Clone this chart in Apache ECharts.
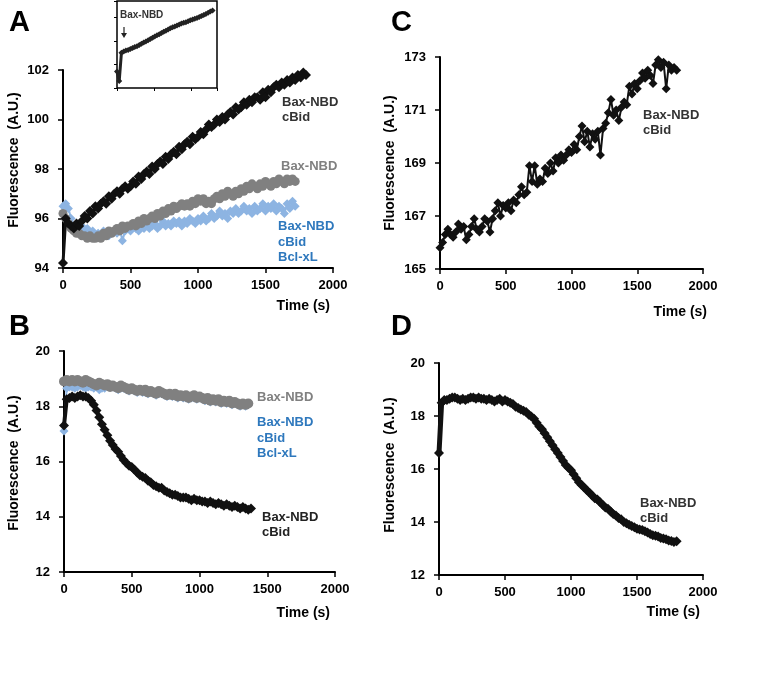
<!DOCTYPE html>
<html><head><meta charset="utf-8">
<script src="https://cdn.jsdelivr.net/npm/echarts@6/dist/echarts.min.js"></script>
<style>html,body{margin:0;padding:0;background:#fff}#c{width:783px;height:680px}</style>
</head><body><div id="c"></div>
<script>
// sample times (s), 20 s step
const time20 = [0,20,40,60,80,100,120,140,160,180,200,220,240,260,280,300,320,340,360,380,400,420,440,460,480,500,520,540,560,580,600,620,640,660,680,700,720,740,760,780,800,820,840,860,880,900,920,940,960,980,1000,1020,1040,1060,1080,1100,1120,1140,1160,1180,1200,1220,1240,1260,1280,1300,1320,1340,1360,1380,1400,1420,1440,1460,1480,1500,1520,1540,1560,1580,1600,1620,1640,1660,1680,1700,1720,1740,1760,1780,1800];
const timeInset = [0,60,120,180,240,300,360,420,480,540,600,660,720,780,840,900,960,1020,1080,1140,1200,1260,1320,1380,1440,1500,1560,1620,1680,1740,1800,1860,1920,1980,2040,2100,2160,2220,2280,2340,2400,2460,2520,2580];

// Panel A
const aBaxCbid = [94.2,96.0,95.8,95.7,95.6,95.8,95.7,95.9,96.1,96.0,96.3,96.2,96.5,96.4,96.6,96.7,96.6,96.9,96.8,97.0,97.1,97.0,97.2,97.3,97.2,97.3,97.5,97.4,97.7,97.6,97.8,97.9,97.8,98.1,98.0,98.2,98.3,98.2,98.5,98.4,98.6,98.7,98.6,98.9,98.8,99.0,99.1,99.0,99.3,99.2,99.3,99.5,99.4,99.6,99.8,99.7,99.8,100.0,99.9,100.1,100.0,100.2,100.3,100.2,100.5,100.4,100.5,100.7,100.6,100.8,100.7,100.9,100.9,100.8,101.1,100.9,101.2,101.1,101.3,101.4,101.3,101.5,101.4,101.6,101.5,101.7,101.6,101.8,101.7,101.9,101.8];
const aBax = [96.2,96.0,95.8,95.6,95.5,95.4,95.4,95.3,95.3,95.2,95.3,95.2,95.2,95.3,95.2,95.4,95.3,95.5,95.4,95.5,95.6,95.5,95.7,95.6,95.7,95.7,95.8,95.7,95.9,95.8,96.0,95.9,96.0,96.1,96.0,96.2,96.1,96.3,96.2,96.4,96.3,96.5,96.4,96.5,96.6,96.5,96.6,96.5,96.7,96.6,96.8,96.7,96.8,96.6,96.7,96.6,96.8,96.9,96.8,97.0,96.9,97.1,97.0,96.9,97.1,97.0,97.2,97.1,97.3,97.2,97.4,97.3,97.2,97.4,97.3,97.5,97.4,97.3,97.5,97.4,97.6,97.5,97.4,97.6,97.5,97.6,97.5];
const aBaxCbidBcl = [96.5,96.6,96.4,96.0,95.7,95.6,95.5,95.7,95.5,95.6,95.4,95.5,95.3,95.4,95.3,95.5,95.4,95.3,95.4,95.5,95.4,95.6,95.1,95.5,95.6,95.5,95.7,95.6,95.5,95.7,95.6,95.8,95.6,95.7,95.8,95.6,95.7,95.9,95.7,95.8,95.7,95.9,95.8,95.9,95.7,95.9,95.8,96.0,95.9,95.8,96.0,95.9,96.1,95.9,96.0,96.2,96.0,96.1,96.3,96.1,96.2,96.0,96.3,96.2,96.4,96.2,96.3,96.5,96.3,96.4,96.2,96.5,96.3,96.4,96.6,96.3,96.5,96.4,96.6,96.3,96.5,96.4,96.2,96.6,96.4,96.7,96.5];

// Panel B
const bBax = [18.9,18.95,18.9,18.95,18.9,18.95,18.9,18.85,18.95,18.9,18.85,18.8,18.75,18.85,18.8,18.75,18.8,18.7,18.75,18.7,18.65,18.75,18.7,18.65,18.6,18.65,18.6,18.55,18.6,18.55,18.6,18.5,18.55,18.5,18.45,18.55,18.5,18.45,18.4,18.45,18.4,18.45,18.35,18.4,18.35,18.4,18.3,18.35,18.4,18.3,18.35,18.3,18.25,18.3,18.2,18.25,18.2,18.25,18.15,18.2,18.15,18.2,18.1,18.15,18.1,18.05,18.1,18.05,18.1];
const bBaxCbidBcl = [17.1,18.65,18.7,18.7,18.65,18.7,18.75,18.7,18.65,18.7,18.7,18.65,18.7,18.6,18.65,18.65,18.75,18.7,18.7,18.65,18.6,18.65,18.65,18.6,18.55,18.6,18.55,18.5,18.55,18.5,18.5,18.45,18.5,18.45,18.4,18.45,18.45,18.4,18.35,18.4,18.35,18.35,18.3,18.35,18.3,18.3,18.25,18.3,18.3,18.25,18.3,18.25,18.2,18.25,18.15,18.2,18.15,18.2,18.1,18.15,18.1,18.15,18.05,18.1,18.05,18.0,18.05,18.0,18.05];
const bBaxCbid = [17.3,18.25,18.3,18.35,18.3,18.35,18.4,18.35,18.35,18.3,18.2,18.05,17.85,17.6,17.35,17.15,16.95,16.75,16.6,16.45,16.35,16.2,16.05,15.95,15.85,15.8,15.7,15.6,15.5,15.45,15.4,15.3,15.25,15.15,15.1,15.05,15.05,14.95,14.9,14.85,14.8,14.8,14.75,14.7,14.7,14.7,14.65,14.6,14.65,14.6,14.6,14.55,14.55,14.5,14.55,14.5,14.45,14.5,14.45,14.4,14.45,14.4,14.35,14.4,14.35,14.3,14.35,14.3,14.25,14.3];

// Panel C
const cBaxCbid = [165.8,166.0,166.3,166.5,166.3,166.2,166.4,166.7,166.5,166.6,166.1,166.3,166.6,166.9,166.5,166.4,166.6,166.9,166.8,166.4,166.9,167.2,167.5,167.0,167.4,167.3,167.5,167.2,167.6,167.5,167.8,168.1,167.8,167.9,168.9,168.3,168.9,168.2,168.4,168.3,168.8,168.6,169.0,168.7,169.2,169.0,169.3,169.1,169.3,169.5,169.4,169.7,169.5,170.0,170.4,169.8,170.2,169.6,170.1,169.9,170.2,169.3,170.3,170.5,170.9,171.4,170.8,171.0,170.6,171.1,171.3,171.2,171.9,171.6,172.0,171.8,172.1,172.4,172.2,172.5,172.3,172.0,172.7,172.9,172.6,172.8,171.8,172.7,172.5,172.6,172.5];

// Panel D
const dBaxCbid = [16.6,18.5,18.6,18.6,18.65,18.7,18.7,18.65,18.6,18.65,18.6,18.65,18.7,18.7,18.65,18.7,18.65,18.65,18.6,18.65,18.6,18.55,18.6,18.65,18.55,18.6,18.55,18.5,18.45,18.35,18.3,18.25,18.2,18.15,18.05,17.98,17.9,17.75,17.6,17.5,17.35,17.2,17.05,16.9,16.75,16.6,16.45,16.3,16.15,16.05,15.95,15.8,15.65,15.5,15.4,15.3,15.2,15.1,15.0,14.9,14.85,14.75,14.65,14.55,14.5,14.4,14.3,14.25,14.15,14.1,14.0,13.95,13.9,13.85,13.8,13.75,13.72,13.7,13.65,13.6,13.55,13.5,13.48,13.45,13.4,13.38,13.35,13.3,13.28,13.25,13.27];

// Inset (arbitrary units)
const insetBax = [0.7,0.3,1.5,1.55,1.6,1.62,1.66,1.7,1.74,1.78,1.83,1.88,1.93,1.98,2.03,2.08,2.14,2.19,2.24,2.29,2.34,2.39,2.44,2.49,2.54,2.58,2.62,2.66,2.7,2.74,2.77,2.8,2.84,2.88,2.91,2.95,2.98,3.02,3.06,3.1,3.15,3.2,3.25,3.3];

// tick settings
const timeTicks = {min:0, max:2000, interval:500};
const yTicksA = {min:94, max:102, interval:2};
const yTicksB = {min:12, max:20, interval:2};
const yTicksC = {min:165, max:173, interval:2};
const yTicksD = {min:12, max:20, interval:2};

const FONT = '"Liberation Sans", Arial, sans-serif';
const BLACK = '#111111', GRAY = '#808080', LBLUE = '#8db4e2', TBLUE = '#2e78bd';

function pairs(t, v){ return v.map((y,i)=>[t[i], y]); }
const plain = v => String(v);

function xAx(gi, r){
  return {type:'value', gridIndex:gi, min:r.min, max:r.max, interval:r.interval,
    axisLine:{show:true, onZero:false, lineStyle:{color:'#000', width:2}},
    axisTick:{show:true, inside:false, length:5, lineStyle:{color:'#000', width:1.5}},
    axisLabel:{show:true, color:'#000', fontWeight:'bold', fontSize:13, fontFamily:FONT, margin:11, formatter:plain},
    splitLine:{show:false}};
}
function yAx(gi, r){
  return {type:'value', gridIndex:gi, min:r.min, max:r.max, interval:r.interval,
    axisLine:{show:true, onZero:false, lineStyle:{color:'#000', width:2}},
    axisTick:{show:true, inside:false, length:5, lineStyle:{color:'#000', width:1.5}},
    axisLabel:{show:true, color:'#000', fontWeight:'bold', fontSize:13, fontFamily:FONT, margin:14, formatter:plain},
    splitLine:{show:false}};
}
function ser(gi, t, v, sym, size, color, z, lw){
  return {type:'line', xAxisIndex:gi, yAxisIndex:gi, data:pairs(t, v),
    symbol:sym, symbolSize:size, showSymbol:true, showAllSymbol:true,
    itemStyle:{color:color}, lineStyle:{color:color, width:lw||2}, z:z, silent:true, animation:false};
}
function txt(x, y, s, color, size, align){
  return {type:'text', x:x, y:y, z:100, silent:true,
    style:{text:s, fill:color, font:'bold '+size+'px '+FONT, textAlign:align||'left', align:align||'left', textVerticalAlign:'middle', verticalAlign:'middle', lineHeight:15.5}};
}
function rtxt(x, y, s){
  return {type:'text', x:x, y:y, rotation:Math.PI/2, z:100, silent:true,
    style:{text:s, fill:'#000', font:'bold 14px '+FONT, textAlign:'center', align:'center', textVerticalAlign:'middle', verticalAlign:'middle'}};
}

const chart = echarts.init(document.getElementById('c'), null, {renderer:'canvas'});
const option = {
  animation:false,
  backgroundColor:'#fff',
  grid:[
    {left:63, top:70, width:270, height:198},
    {left:64, top:351, width:271, height:221},
    {left:440, top:57, width:263, height:212},
    {left:439, top:363, width:264, height:212},
    {left:117, top:1, width:100, height:87, show:true, borderColor:'#000', borderWidth:1.5, backgroundColor:'#fff', z:5}
  ],
  xAxis:[ xAx(0,timeTicks), xAx(1,timeTicks), xAx(2,timeTicks), xAx(3,timeTicks),
    {type:'value', gridIndex:4, min:0, max:2700, interval:1000, axisLine:{show:false}, axisLabel:{show:false},
     axisTick:{show:true, length:3, lineStyle:{color:'#000', width:1}}, splitLine:{show:false}} ],
  yAxis:[ yAx(0,yTicksA), yAx(1,yTicksB), yAx(2,yTicksC), yAx(3,yTicksD),
    {type:'value', gridIndex:4, min:0, max:3.7, interval:1, axisLine:{show:false}, axisLabel:{show:false},
     axisTick:{show:true, length:3, lineStyle:{color:'#000', width:1}}, splitLine:{show:false}} ],
  series:[
    ser(0, time20, aBaxCbidBcl, 'diamond', 9, LBLUE, 2, 2),
    ser(0, time20, aBax, 'circle', 9, GRAY, 3, 3),
    ser(0, time20, aBaxCbid, 'diamond', 10, BLACK, 4, 3),
    ser(1, time20, bBaxCbidBcl, 'diamond', 9, LBLUE, 2, 2),
    ser(1, time20, bBax, 'circle', 10, GRAY, 3, 4),
    ser(1, time20, bBaxCbid, 'diamond', 10, BLACK, 4, 4),
    ser(2, time20, cBaxCbid, 'diamond', 9, BLACK, 4, 2),
    ser(3, time20, dBaxCbid, 'diamond', 10, BLACK, 4, 5),
    ser(4, timeInset, insetBax, 'diamond', 6, '#222', 6, 3)
  ],
  graphic:[
    txt(9, 23, 'A', '#000', 29), txt(9, 327, 'B', '#000', 29),
    txt(391, 23, 'C', '#000', 29), txt(391, 327, 'D', '#000', 29),
    rtxt(14, 160, 'Fluorescence  (A.U.)'), rtxt(14, 463, 'Fluorescence  (A.U.)'),
    rtxt(390, 163, 'Fluorescence  (A.U.)'), rtxt(390, 465, 'Fluorescence  (A.U.)'),
    txt(330, 306, 'Time (s)', '#000', 14, 'right'), txt(330, 613, 'Time (s)', '#000', 14, 'right'),
    txt(707, 312, 'Time (s)', '#000', 14, 'right'), txt(700, 612, 'Time (s)', '#000', 14, 'right'),
    txt(282, 110, 'Bax-NBD\ncBid', '#333', 13),
    txt(281, 166, 'Bax-NBD', GRAY, 13),
    txt(278, 242, 'Bax-NBD\ncBid\nBcl-xL', TBLUE, 13),
    txt(257, 397, 'Bax-NBD', GRAY, 13),
    txt(257, 438, 'Bax-NBD\ncBid\nBcl-xL', TBLUE, 13),
    txt(262, 525, 'Bax-NBD\ncBid', '#222', 13),
    txt(643, 123, 'Bax-NBD\ncBid', '#333', 13),
    txt(640, 511, 'Bax-NBD\ncBid', '#333', 13),
    txt(120, 15, 'Bax-NBD', '#333', 10),
    {type:'line', z:100, silent:true, shape:{x1:124, y1:27, x2:124, y2:34}, style:{stroke:'#222', lineWidth:1.2}},
    {type:'polygon', z:100, silent:true, shape:{points:[[121,33],[127,33],[124,38]]}, style:{fill:'#222'}}
  ]
};
chart.setOption(option);
</script></body></html>
